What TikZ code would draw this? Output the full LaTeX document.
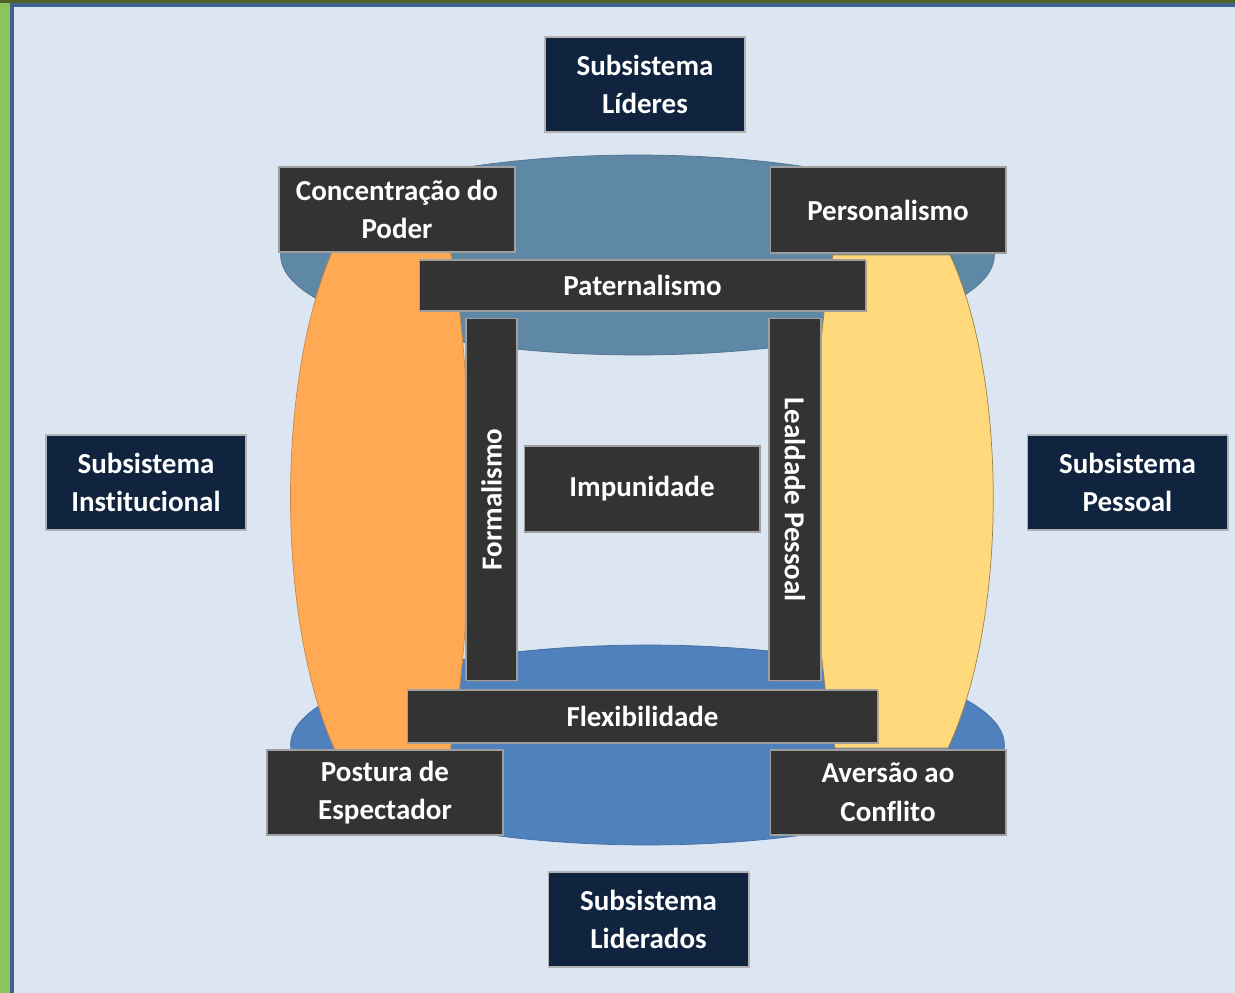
\documentclass[tikz,border=0pt]{standalone}
\usepackage{fontspec}
\setmainfont{Carlito}[Ligatures=NoCommon]
\usetikzlibrary{shadows}
\definecolor{fundo}{HTML}{DCE6F2}
\definecolor{verde}{HTML}{8CC45A}
\definecolor{verdeesc}{HTML}{4F6228}
\definecolor{azulborda}{HTML}{3E6391}
\definecolor{elipsecima}{HTML}{5F87A6}
\definecolor{elipsebaixo}{HTML}{4F81BD}
\definecolor{laranja}{HTML}{FFA955}
\definecolor{amarelo}{HTML}{FFD97B}
\definecolor{caixa}{HTML}{333333}
\definecolor{marinho}{HTML}{10243F}
\tikzset{
  valor/.style={fill=caixa, draw=gray!75, line width=0.6pt, text=white,
    font=\bfseries\fontsize{16.5}{22}\selectfont, align=center, inner sep=0pt,
    drop shadow={shadow xshift=0.8pt, shadow yshift=-0.8pt, opacity=0.6}},
  subsis/.style={fill=marinho, draw=gray!60, line width=0.6pt, text=white,
    font=\bfseries\fontsize{16.5}{22}\selectfont, align=center, inner sep=0pt,
    minimum width=4cm, minimum height=1.9cm,
    drop shadow={shadow xshift=0.8pt, shadow yshift=-0.8pt, opacity=0.5}}
}
\begin{document}
\begin{tikzpicture}[x=0.02cm, y=-0.02cm]
        \useasboundingbox (0,0) rectangle (1235,993);
        % moldura
        \fill[fundo] (0,0) rectangle (1235,993);
        \fill[verde] (0,0) rectangle (10,993);
        \fill[verdeesc] (0,0) rectangle (1235,3);
        \fill[azulborda] (10,3) rectangle (1235,7);
        \fill[azulborda] (10,3) rectangle (14,993);
        % elipses
        \draw[elipsecima!85!black, fill=elipsecima, line width=0.4pt] (637.5,255) ellipse [x radius=7.14cm, y radius=2cm];
        \draw[elipsebaixo!85!black, fill=elipsebaixo, line width=0.4pt] (647.5,745) ellipse [x radius=7.14cm, y radius=2cm];
        % laterais
        \draw[laranja!80!black, fill=laranja, line width=0.4pt] (333,250) .. controls (276,380) and (276,620) .. (335,750)
            -- (450,750) .. controls (476,620) and (476,380) .. (450,250) -- cycle;
        \draw[amarelo!60!black, fill=amarelo, line width=0.4pt] (833,255) .. controls (808,380) and (808,620) .. (835,748)
            -- (948,748) .. controls (1008,620) and (1008,380) .. (950,255) -- cycle;
        % caixas
        \node[valor, minimum width=4.72cm, minimum height=1.7cm] (conc) at (397,209.5) {Concentração do\\Poder};
        \node[valor, minimum width=4.72cm, minimum height=1.72cm] (pers) at (888,210) {Personalismo};
        \node[valor, minimum width=8.94cm, minimum height=1.02cm] (pat) at (642.5,285.5) {Paternalismo};
        \node[valor, minimum width=7.26cm, minimum height=1.02cm, rotate=90] (form) at (491.5,499.5) {Formalismo};
        \node[valor, minimum width=7.26cm, minimum height=1.04cm, rotate=-90] (leal) at (795,499.5) {Lealdade Pessoal};
        \node[valor, minimum width=4.72cm, minimum height=1.72cm] (imp) at (642,489) {Impunidade};
        \node[valor, minimum width=9.42cm, minimum height=1.06cm] (flex) at (642.5,716.5) {Flexibilidade};
        \node[valor, minimum width=4.72cm, minimum height=1.7cm] (post) at (385,792.5) {Postura de\\Espectador};
        \node[valor, minimum width=4.72cm, minimum height=1.7cm] (avers) at (888,792.5) {Aversão ao\\Conflito};
        % subsistemas
        \node[subsis] (lid) at (645,84.5) {Subsistema\\Líderes};
        \node[subsis] (inst) at (146,482.5) {Subsistema\\Institucional};
        \node[subsis] (pess) at (1127.5,482.5) {Subsistema\\Pessoal};
        \node[subsis] (ldos) at (648.5,919.5) {Subsistema\\Liderados};
    \end{tikzpicture}
\end{document}
